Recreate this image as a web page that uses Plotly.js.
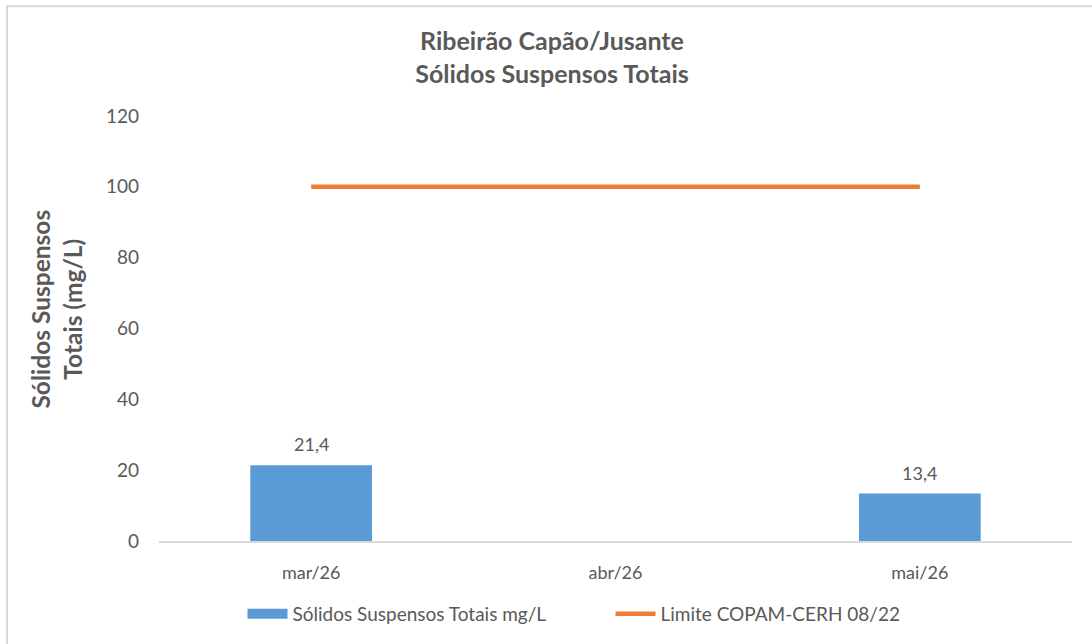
<!DOCTYPE html>
<html>
<head>
<meta charset="utf-8">
<script src="https://cdn.plot.ly/plotly-3.0.1.min.js"></script>
<style>html,body{margin:0;padding:0;background:#fff;}#chart{width:1092px;height:644px;}</style>
</head>
<body>
<div id="chart"></div>
<script>
const categories = ["mar/26", "abr/26", "mai/26"];
const solidos = [21.4, null, 13.4];
const limite = [100, 100, 100];
const yTicks = [0, 20, 40, 60, 80, 100, 120];
const seriesNames = ["Sólidos Suspensos Totais mg/L", "Limite COPAM-CERH 08/22"];

const FONT = "Lato, 'Open Sans', sans-serif";
const GRAY = "#595959";
const BLUE = "#5b9bd5";
const ORANGE = "#ed7d31";

const L = 159, R = 20, T = 116, B = 102, W = 1092, H = 644;
const pw = W - L - R, ph = H - T - B;
const px = v => (v - L) / pw;
const py = v => (H - B - v) / ph;

const traces = [
  {type: "bar", x: categories, y: solidos, width: 0.4, marker: {color: BLUE},
   showlegend: false, hoverinfo: "x+y"},
  {type: "scatter", mode: "lines", x: [null], y: [null], name: seriesNames[0],
   line: {color: BLUE, width: 11}, hoverinfo: "skip", legendwidth: 313},
  {type: "scatter", mode: "lines", x: categories, y: limite, name: seriesNames[1],
   line: {color: ORANGE, width: 4.5}}
];

const annotations = [];
categories.forEach((c, i) => {
  if (solidos[i] !== null) {
    annotations.push({x: c, y: solidos[i], xref: "x", yref: "y", yanchor: "bottom",
      text: solidos[i].toFixed(1).replace(".", ","), showarrow: false, yshift: 8,
      font: {family: FONT, size: 18, color: GRAY}});
  }
});
annotations.push({xref: "paper", yref: "paper", x: px(57), y: py(310), text: "<b>Sólidos Suspensos<br>Totais (mg/L)</b>",
  textangle: -90, showarrow: false, xanchor: "center", yanchor: "middle",
  font: {family: FONT, size: 24.5, color: GRAY}});

const layout = {
  width: W, height: H,
  margin: {l: L, r: R, t: T, b: B},
  paper_bgcolor: "#fff", plot_bgcolor: "#fff",
  font: {family: FONT, color: GRAY, size: 18},
  title: {text: "<b>Ribeirão Capão/Jusante<br>Sólidos Suspensos Totais</b>", xref: "container", yref: "container",
    x: 552 / W, xanchor: "center", y: 1 - 50 / H, yanchor: "top",
    font: {family: FONT, size: 25, color: GRAY}},
  xaxis: {type: "category", showline: true, linecolor: "#d9d9d9", linewidth: 1.5, showgrid: false,
    zeroline: false, ticks: "", ticklabelstandoff: 15, tickfont: {family: FONT, size: 18, color: GRAY},
    fixedrange: true},
  yaxis: {range: [0, 120], tickvals: yTicks, showgrid: false, zeroline: false, showline: false,
    ticks: "", ticklabelstandoff: 19, tickfont: {family: FONT, size: 19, color: GRAY}, fixedrange: true},
  showlegend: true,
  legend: {orientation: "h", xref: "paper", yref: "paper", x: px(574), y: py(614), xanchor: "center", yanchor: "middle",
    font: {family: FONT, size: 19, color: GRAY}, itemwidth: 40, traceorder: "normal"},
  annotations: annotations,
  shapes: [{type: "rect", xref: "paper", yref: "paper", x0: px(7), x1: px(1110), y0: py(670), y1: py(6),
    line: {color: "#d9d9d9", width: 2}, fillcolor: "rgba(0,0,0,0)", layer: "below"}]
};

Plotly.newPlot("chart", traces, layout, {displayModeBar: false, staticPlot: true});
</script>
</body>
</html>
